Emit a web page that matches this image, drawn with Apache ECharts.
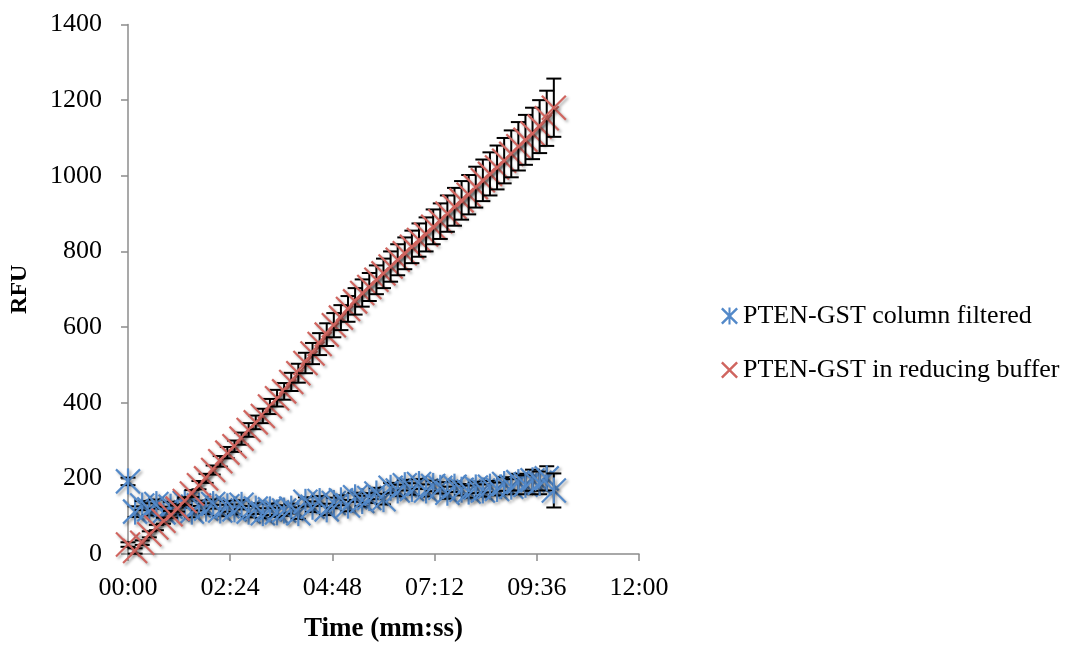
<!DOCTYPE html>
<html>
<head>
<meta charset="utf-8">
<script src="https://cdn.jsdelivr.net/npm/echarts@6/dist/echarts.min.js"></script>
<style>
  html, body { margin: 0; padding: 0; background: #fff; }
  #chart { width: 1070px; height: 648px; }
</style>
</head>
<body>
<div id="chart"></div>
<script>
// Kinetic read: time in seconds, fluorescence in RFU (mean ± SD)
const timeSec = [
  0, 10, 20, 30, 40, 50, 60, 70, 80, 90,
  100, 110, 120, 130, 140, 150, 160, 170, 180, 190,
  200, 210, 220, 230, 240, 250, 260, 270, 280, 290,
  300, 310, 320, 330, 340, 350, 360, 370, 380, 390,
  400, 410, 420, 430, 440, 450, 460, 470, 480, 490,
  500, 510, 520, 530, 540, 550, 560, 570, 580, 590, 600
];

const filteredRFU = [
  192, 112, 128, 118, 132, 110, 125, 118, 135, 112,
  128, 120, 132, 115, 126, 118, 130, 112, 120, 108,
  118, 110, 115, 120, 108, 138, 125, 140, 118, 135,
  142, 128, 150, 140, 148, 160, 145, 175, 168, 182,
  172, 185, 168, 180, 175, 162, 178, 170, 165, 176,
  168, 178, 172, 185, 178, 190, 183, 195, 188, 200, 168
];
const filteredSD = [
  10, 14, 12, 16, 12, 15, 13, 14, 12, 15,
  13, 14, 12, 15, 14, 13, 12, 15, 14, 13,
  15, 12, 14, 13, 15, 12, 14, 13, 15, 14,
  13, 15, 12, 14, 13, 15, 14, 13, 15, 14,
  15, 13, 16, 14, 15, 16, 14, 15, 16, 15,
  16, 15, 17, 18, 20, 22, 25, 28, 30, 32, 45
];

const reducingRFU = [
  25, 8, 30, 52, 70, 88, 105, 120, 140, 160,
  182, 200, 222, 245, 268, 285, 305, 328, 348, 365,
  390, 412, 430, 455, 478, 505, 530, 555, 580, 605,
  625, 648, 668, 690, 706, 725, 742, 760, 778, 795,
  812, 830, 845, 865, 880, 900, 918, 935, 950, 970,
  988, 1005, 1022, 1040, 1058, 1078, 1095, 1112, 1130, 1152, 1180
];
const reducingSD = [
  6, 7, 6, 8, 7, 8, 9, 8, 10, 9,
  11, 12, 12, 14, 15, 15, 16, 18, 18, 19,
  20, 22, 22, 24, 25, 27, 28, 29, 30, 32,
  33, 34, 35, 36, 37, 38, 39, 40, 41, 42,
  43, 44, 45, 46, 47, 48, 50, 51, 52, 54,
  55, 57, 58, 60, 62, 64, 66, 68, 70, 73, 77
];

const yTicks = [0, 200, 400, 600, 800, 1000, 1200, 1400];
const xTickSec = [0, 144, 288, 432, 576, 720];

const seriesNames = ['PTEN-GST column filtered', 'PTEN-GST in reducing buffer'];
const seriesColors = ['#5389c9', '#d0655f'];

const FONT = 'Liberation Serif';

function mmss(sec) {
  const m = Math.floor(sec / 60);
  const s = Math.round(sec - m * 60);
  return String(m).padStart(2, '0') + ':' + String(s).padStart(2, '0');
}

function rows(xs, ys, es) {
  return xs.map((t, i) => [t, ys[i], es[i]]);
}

const shadow = {
  shadowColor: 'rgba(0,0,0,0.35)',
  shadowBlur: 3,
  shadowOffsetX: 2,
  shadowOffsetY: 2
};

// Draws one point: black error bar with caps, then the marker on top
function makeRenderer(kind, color) {
  return function (params, api) {
    const t = api.value(0), v = api.value(1), e = api.value(2);
    const c = api.coord([t, v]);
    const hi = api.coord([t, v + e]);
    const lo = api.coord([t, v - e]);
    const cap = 7.5;
    const r = 12;
    const barStyle = { stroke: '#000', lineWidth: 2 };
    const children = [
      { type: 'line', shape: { x1: c[0], y1: hi[1], x2: c[0], y2: lo[1] }, style: barStyle },
      { type: 'line', shape: { x1: c[0] - cap, y1: hi[1], x2: c[0] + cap, y2: hi[1] }, style: barStyle },
      { type: 'line', shape: { x1: c[0] - cap, y1: lo[1], x2: c[0] + cap, y2: lo[1] }, style: barStyle }
    ];
    const mk = Object.assign({ stroke: color, lineWidth: 2.2, lineCap: 'butt' }, shadow);
    children.push({ type: 'line', shape: { x1: c[0] - r, y1: c[1] - r, x2: c[0] + r, y2: c[1] + r }, style: mk });
    children.push({ type: 'line', shape: { x1: c[0] - r, y1: c[1] + r, x2: c[0] + r, y2: c[1] - r }, style: mk });
    if (kind === 'star') {
      children.push({ type: 'line', shape: { x1: c[0], y1: c[1] - r - 1, x2: c[0], y2: c[1] + r + 1 }, style: mk });
    }
    return { type: 'group', children: children };
  };
}

const crossIcon = 'path://M0,1 L1,0 L5,4 L9,0 L10,1 L6,5 L10,9 L9,10 L5,6 L1,10 L0,9 L4,5 Z';
const starIcon = crossIcon + ' M4.4,0 L5.6,0 L5.6,10 L4.4,10 Z';

const chart = echarts.init(document.getElementById('chart'), null, { renderer: 'canvas' });

chart.setOption({
  backgroundColor: '#ffffff',
  animation: false,
  textStyle: { fontFamily: FONT, color: '#000' },
  grid: { left: 128, right: 431, top: 24.5, bottom: 87.5, containLabel: false },
  legend: {
    orient: 'vertical',
    left: 716,
    top: 298,
    itemWidth: 17,
    itemHeight: 17,
    itemGap: 28,
    selectedMode: false,
    textStyle: { fontFamily: FONT, fontSize: 26, color: '#000' },
    data: [
      { name: seriesNames[0], icon: starIcon, itemStyle: { color: seriesColors[0] } },
      { name: seriesNames[1], icon: crossIcon, itemStyle: { color: seriesColors[1] } }
    ]
  },
  xAxis: {
    type: 'value',
    min: xTickSec[0],
    max: xTickSec[xTickSec.length - 1],
    interval: xTickSec[1] - xTickSec[0],
    name: 'Time (mm:ss)',
    nameLocation: 'middle',
    nameGap: 62,
    nameTextStyle: { fontFamily: FONT, fontSize: 27, fontWeight: 'bold', color: '#000' },
    axisLine: { show: true, lineStyle: { color: '#8c8c8c', width: 1.5 } },
    axisTick: { show: true, inside: false, length: 7, lineStyle: { color: '#8c8c8c', width: 1.5 } },
    axisLabel: { fontFamily: FONT, fontSize: 26, color: '#000', margin: 21, formatter: mmss },
    splitLine: { show: false }
  },
  yAxis: {
    type: 'value',
    min: yTicks[0],
    max: yTicks[yTicks.length - 1],
    interval: yTicks[1] - yTicks[0],
    name: 'RFU',
    nameLocation: 'middle',
    nameGap: 96,
    nameTextStyle: { fontFamily: FONT, fontSize: 24, fontWeight: 'bold', color: '#000' },
    axisLine: { show: true, lineStyle: { color: '#8c8c8c', width: 1.5 } },
    axisTick: { show: true, inside: false, length: 7, lineStyle: { color: '#8c8c8c', width: 1.5 } },
    axisLabel: { fontFamily: FONT, fontSize: 26, color: '#000', margin: 26, formatter: v => String(v) },
    splitLine: { show: false }
  },
  series: [
    {
      name: seriesNames[0],
      type: 'custom',
      clip: false,
      itemStyle: { color: seriesColors[0] },
      encode: { x: 0, y: 1 },
      data: rows(timeSec, filteredRFU, filteredSD),
      renderItem: makeRenderer('star', seriesColors[0])
    },
    {
      name: seriesNames[1],
      type: 'custom',
      clip: false,
      itemStyle: { color: seriesColors[1] },
      encode: { x: 0, y: 1 },
      data: rows(timeSec, reducingRFU, reducingSD),
      renderItem: makeRenderer('cross', seriesColors[1])
    }
  ]
});
</script>
</body>
</html>
